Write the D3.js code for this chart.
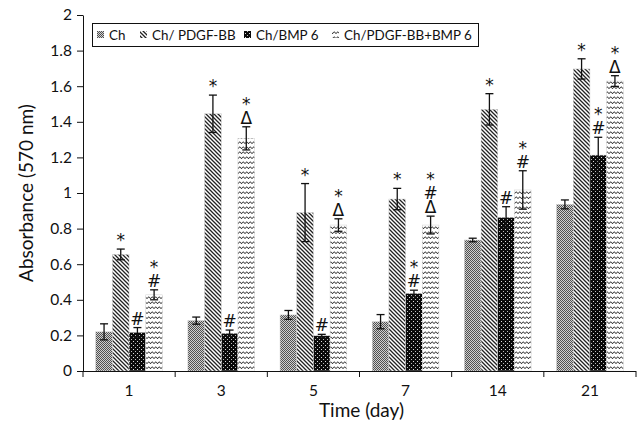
<!DOCTYPE html>
<html><head><meta charset="utf-8">
<script src="https://cdn.jsdelivr.net/npm/d3@7/dist/d3.min.js"></script>
<style>
body{margin:0;background:#fff;}
svg{display:block;font-family:Lato, "Open Sans", sans-serif;}
.mk{width:24px;height:60px;display:flex;flex-direction:column;justify-content:flex-end;
    text-align:center;white-space:pre;line-height:14px;font-size:17px;color:#111;
    font-family:'DejaVu Sans', sans-serif;margin:0;padding:0;}
</style></head>
<body>
<svg id="c" width="640" height="427"></svg>
<script>
// ---- data ----
const days = ["1","3","5","7","14","21"];
const seriesNames = ["Ch","Ch/ PDGF-BB","Ch/BMP 6","Ch/PDGF-BB+BMP 6"];
const chVals    = [0.22, 0.283, 0.315, 0.277, 0.736, 0.936];
const chErr     = [0.045, 0.02, 0.025, 0.04, 0.01, 0.025];
const pdgfVals  = [0.655, 1.445, 0.89, 0.966, 1.47, 1.697];
const pdgfErr   = [0.03, 0.105, 0.163, 0.06, 0.088, 0.057];
const bmpVals   = [0.217, 0.212, 0.198, 0.436, 0.863, 1.213];
const bmpErr    = [0.027, 0.018, 0.008, 0.018, 0.06, 0.1];
const comboVals = [0.428, 1.307, 0.82, 0.82, 1.017, 1.629];
const comboErr  = [0.028, 0.065, 0.035, 0.05, 0.108, 0.03];
// significance marks, listed top to bottom
const chMarks    = ["", "", "", "", "", ""];
const pdgfMarks  = ["*", "*", "*", "*", "*", "*"];
const bmpMarks   = ["#", "#", "#", "*#", "#", "*#"];
const comboMarks = ["*#", "*Δ", "*Δ", "*#Δ", "*#", "*Δ"];
const yTicks = [0, 0.2, 0.4, 0.6, 0.8, 1, 1.2, 1.4, 1.6, 1.8, 2];
const yTitle = "Absorbance (570 nm)";
const xTitle = "Time (day)";

const allVals = [chVals, pdgfVals, bmpVals, comboVals];
const allErr = [chErr, pdgfErr, bmpErr, comboErr];
const allMarks = [chMarks, pdgfMarks, bmpMarks, comboMarks];

const svg = d3.select("#c");
const mLeft = 83, mRight = 636, mTop = 15, mBottom = 371;

// ---- patterns ----
const defs = svg.append("defs");
const p0 = defs.append("pattern").attr("id","pat0").attr("patternUnits","userSpaceOnUse").attr("width",2).attr("height",2);
p0.append("rect").attr("width",2).attr("height",2).attr("fill","#cfcfcf");
p0.append("rect").attr("width",1).attr("height",1).attr("fill","#505050");
p0.append("rect").attr("x",1).attr("y",1).attr("width",1).attr("height",1).attr("fill","#505050");

const p1 = defs.append("pattern").attr("id","pat1").attr("patternUnits","userSpaceOnUse").attr("width",4).attr("height",4);
p1.append("rect").attr("width",4).attr("height",4).attr("fill","#fff");
p1.append("path").attr("d","M-1,-1 L5,5 M-1,3 L1,5 M3,-1 L5,1").attr("stroke","#222").attr("stroke-width",1.3);

const p2 = defs.append("pattern").attr("id","pat2").attr("patternUnits","userSpaceOnUse").attr("width",4).attr("height",4);
p2.append("rect").attr("width",4).attr("height",4).attr("fill","#0a0a0a");
p2.append("rect").attr("x",1).attr("y",1).attr("width",1).attr("height",1).attr("fill","#ddd");
p2.append("rect").attr("x",3).attr("y",3).attr("width",1).attr("height",1).attr("fill","#bbb");

const p3 = defs.append("pattern").attr("id","pat3").attr("patternUnits","userSpaceOnUse").attr("width",7).attr("height",5);
p3.append("rect").attr("width",7).attr("height",5).attr("fill","#fff");
p3.append("path").attr("d","M0,3.8 Q1.75,0.2 3.5,3.8 Q5.25,0.2 7,3.8").attr("stroke","#222").attr("stroke-width",1).attr("fill","none");

// ---- scales ----
const x0 = d3.scaleBand().domain(days).range([mLeft, mRight]).paddingInner(0.276).paddingOuter(0.138);
const x1 = d3.scaleBand().domain(seriesNames).range([0, x0.bandwidth()]);
const y = d3.scaleLinear().domain([0, 2]).range([mBottom, mTop]);

// ---- bars ----
const rows = [];
days.forEach((d, i) => {
  seriesNames.forEach((s, k) => {
    rows.push({day: d, s, k, v: allVals[k][i], e: allErr[k][i], m: allMarks[k][i]});
  });
});

const g = svg.append("g");
g.selectAll("rect.bar").data(rows).join("rect")
  .attr("class","bar")
  .attr("x", r => x0(r.day) + x1(r.s))
  .attr("width", x1.bandwidth())
  .attr("y", r => y(r.v))
  .attr("height", r => y(0) - y(r.v))
  .attr("fill", r => `url(#pat${r.k})`)
  .attr("stroke", "#d0d0d0").attr("stroke-width", 0.5);

// error bars
const eb = g.selectAll("g.err").data(rows).join("g").attr("class","err")
  .attr("transform", r => `translate(${x0(r.day) + x1(r.s) + x1.bandwidth()/2},0)`);
eb.append("line").attr("y1", r => y(r.v + r.e)).attr("y2", r => y(r.v - r.e)).attr("stroke","#111").attr("stroke-width",1.3);
eb.append("line").attr("x1",-4).attr("x2",4).attr("y1", r => y(r.v + r.e)).attr("y2", r => y(r.v + r.e)).attr("stroke","#111").attr("stroke-width",1.3);
eb.append("line").attr("x1",-4).attr("x2",4).attr("y1", r => y(r.v - r.e)).attr("y2", r => y(r.v - r.e)).attr("stroke","#111").attr("stroke-width",1.3);

// marks: one text block per stack
eb.filter(r => r.m.length > 0).each(function(r){
  const base = y(r.v + r.e);
  d3.select(this).append("foreignObject")
    .attr("x", -12).attr("y", base - 62).attr("width", 24).attr("height", 60)
    .append("xhtml:div").attr("class","mk")
    .text(Array.from(r.m).join("\n"));
});

// ---- axes ----
const yAxis = d3.axisLeft(y).tickValues(yTicks).tickFormat(d => String(d)).tickSize(6).tickSizeOuter(0);
const ya = svg.append("g").attr("transform",`translate(${mLeft},0)`).call(yAxis);
ya.selectAll("text").attr("font-size",15.5).attr("fill","#111").attr("font-family","Lato, sans-serif").attr("dx","-2");
ya.selectAll("line").attr("stroke","#111");
ya.select(".domain").attr("stroke","#111");

const xAxis = d3.axisBottom(x0).tickSize(0).tickSizeOuter(0);
const xa = svg.append("g").attr("transform",`translate(0,${mBottom})`).call(xAxis);
xa.select(".domain").attr("stroke","#111").attr("d", `M${mLeft},0.5H${mRight}`);
xa.selectAll("text").attr("font-size",15.5).attr("fill","#111").attr("font-family","Lato, sans-serif").attr("dy","1.45em");
// boundary ticks
const bounds = [mLeft].concat(days.map(d => x0(d) + x0.bandwidth() + x0.step()*x0.paddingInner()/2));
bounds[bounds.length-1] = mRight;
xa.selectAll("line.bt").data(bounds).join("line").attr("class","bt")
  .attr("x1", d => d).attr("x2", d => d).attr("y1", 0).attr("y2", 6).attr("stroke","#111");

// titles
svg.append("text").attr("transform",`translate(33,${(mTop+mBottom)/2}) rotate(-90)`)
  .attr("text-anchor","middle").attr("font-size",19).attr("fill","#111").text(yTitle);
svg.append("text").attr("x",(mLeft+mRight)/2 + 2).attr("y",417)
  .attr("text-anchor","middle").attr("font-size",19).attr("fill","#111").text(xTitle);

// ---- legend ----
const lg = svg.append("g");
lg.append("rect").attr("x",92.5).attr("y",23.5).attr("width",386).attr("height",23).attr("fill","#fff").attr("stroke","#111").attr("stroke-width",1);
const legX = [97, 140, 244, 332];
seriesNames.forEach((s, k) => {
  lg.append("rect").attr("x", legX[k]).attr("y", 31).attr("width", 7).attr("height", 7).attr("fill", `url(#pat${k})`);
  lg.append("text").attr("x", legX[k] + 12).attr("y", 40).attr("font-size", 13.4).attr("fill","#111").text(s);
});
</script>
</body></html>
